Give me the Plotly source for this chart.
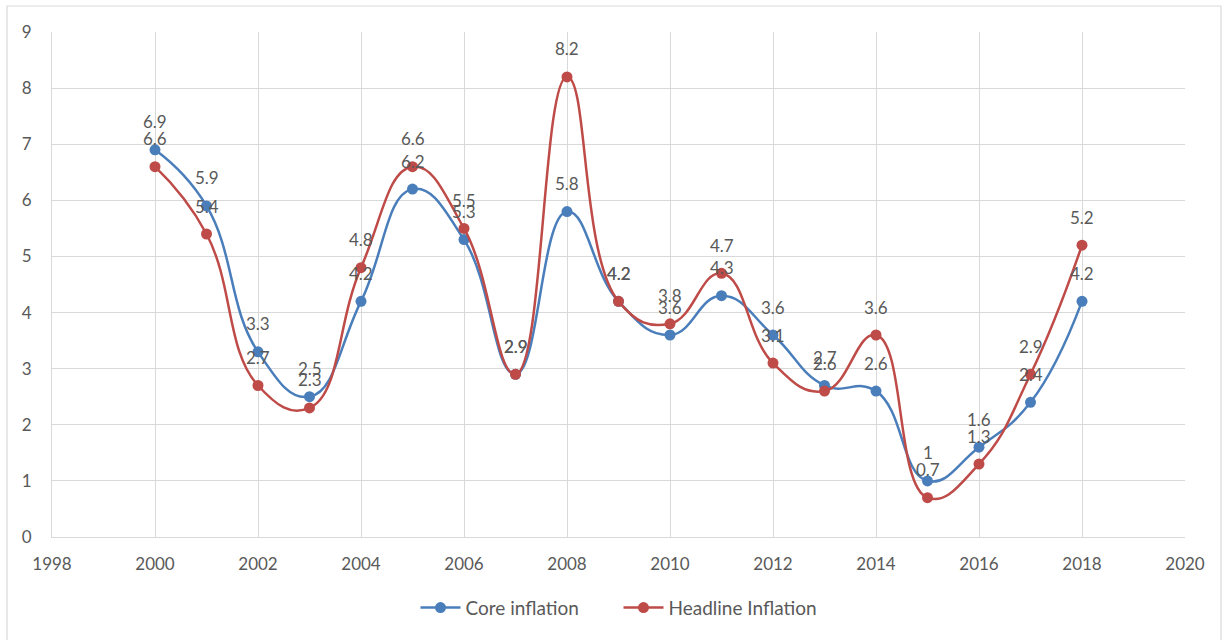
import plotly.graph_objects as go

years = [2000, 2001, 2002, 2003, 2004, 2005, 2006, 2007, 2008, 2009,
         2010, 2011, 2012, 2013, 2014, 2015, 2016, 2017, 2018]
core_inflation = [6.9, 5.9, 3.3, 2.5, 4.2, 6.2, 5.3, 2.9, 5.8, 4.2,
                  3.6, 4.3, 3.6, 2.7, 2.6, 1.0, 1.6, 2.4, 4.2]
headline_inflation = [6.6, 5.4, 2.7, 2.3, 4.8, 6.6, 5.5, 2.9, 8.2, 4.2,
                      3.8, 4.7, 3.1, 2.6, 3.6, 0.7, 1.3, 2.9, 5.2]

BLUE = "#4A7EBB"
RED = "#BE4B48"
GRID = "#D9D9D9"
TEXT = "#595959"
FONT = "Lato, 'Open Sans', sans-serif"
SIZE = 17

fig = go.Figure()

series = [("Core inflation", core_inflation, BLUE),
          ("Headline Inflation", headline_inflation, RED)]

for name, vals, color in series:
    fig.add_trace(go.Scatter(
        x=years, y=vals, name=name, mode="lines+markers",
        line=dict(color=color, width=2.5, shape="spline", smoothing=1.3),
        marker=dict(color=color, size=11),
    ))

# value labels above each point
annotations = []
for name, vals, color in series:
    for x, v in zip(years, vals):
        annotations.append(dict(
            x=x, y=v, xref="x", yref="y", text=f"{v:g}", showarrow=False,
            yshift=28, yanchor="middle", xanchor="center",
            font=dict(family=FONT, size=SIZE, color=TEXT),
        ))

fig.update_layout(
    width=1228, height=640,
    margin=dict(l=52, r=43, t=32, b=103),
    paper_bgcolor="white", plot_bgcolor="white",
    font=dict(family=FONT, size=SIZE, color=TEXT),
    showlegend=True,
    legend=dict(orientation="h", x=0.5, xanchor="center", y=-0.14,
                yanchor="middle", font=dict(family=FONT, size=19, color=TEXT),
                itemwidth=40, entrywidth=148, entrywidthmode="pixels"),
    annotations=annotations,
    shapes=[dict(type="rect", xref="paper", yref="paper",
                 x0=-0.0397, x1=1.0318, y0=-0.25, y1=1.0515,
                 line=dict(color=GRID, width=1.2), layer="below")],
)

fig.update_xaxes(
    range=[1998, 2020], tickvals=list(range(1998, 2021, 2)),
    showgrid=True, gridcolor=GRID, gridwidth=1,
    showline=True, linecolor=GRID, linewidth=1,
    zeroline=False, ticks="", ticklabelstandoff=12,
    tickfont=dict(family=FONT, size=SIZE, color=TEXT),
)
fig.update_yaxes(
    range=[0, 9], tickvals=list(range(0, 10)),
    showgrid=True, gridcolor=GRID, gridwidth=1,
    showline=True, linecolor=GRID, linewidth=1,
    zeroline=False, ticks="", ticklabelstandoff=16,
    tickfont=dict(family=FONT, size=SIZE, color=TEXT),
)

fig.write_html("out.html")
